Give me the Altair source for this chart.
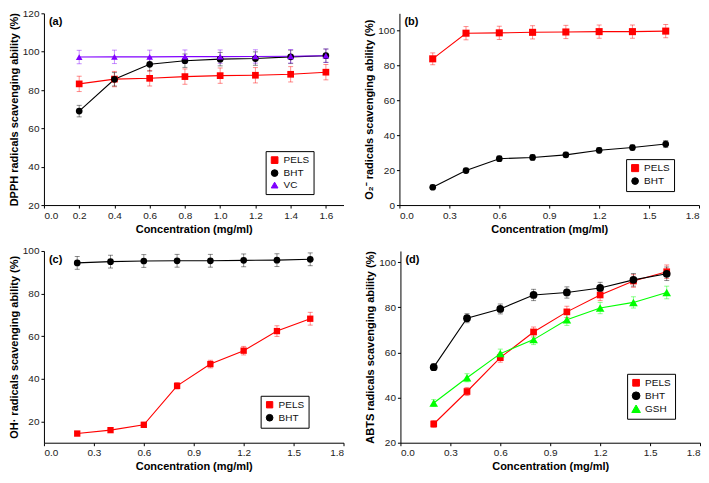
import altair as alt
import pandas as pd

conc = [0.2, 0.4, 0.6, 0.8, 1.0, 1.2, 1.4, 1.6]

# (a) DPPH
a_pels = [83.2, 85.7, 86.1, 87.0, 87.5, 87.7, 88.2, 89.3]
a_pels_err = [4.0, 4.0, 4.0, 4.0, 4.0, 4.0, 4.0, 4.0]
a_bht = [69.0, 85.6, 93.4, 95.3, 96.1, 96.4, 97.3, 97.9]
a_bht_err = [3.0, 3.5, 3.5, 3.5, 3.5, 3.5, 3.5, 3.5]
a_vc = [97.2, 97.3, 97.3, 97.4, 97.4, 97.5, 97.6, 97.9]
a_vc_err = [3.5, 3.5, 3.5, 3.5, 3.5, 3.5, 3.5, 3.5]

# (b) superoxide
b_pels = [83.9, 98.6, 98.8, 99.1, 99.3, 99.5, 99.5, 99.8]
b_pels_err = [3.4, 3.8, 3.8, 3.8, 3.8, 3.8, 3.8, 3.8]
b_bht = [10.2, 19.8, 26.6, 27.3, 28.8, 31.4, 33.0, 35.0]
b_bht_err = [1.2, 1.3, 1.5, 1.5, 1.5, 1.5, 1.5, 2.0]

# (c) hydroxyl
c_pels = [14.3, 15.9, 18.4, 36.7, 46.9, 53.2, 62.4, 68.2]
c_pels_err = [1.0, 1.0, 1.2, 1.5, 1.8, 2.0, 2.5, 3.0]
c_bht = [94.4, 95.0, 95.3, 95.4, 95.4, 95.6, 95.7, 96.1]
c_bht_err = [3.0, 3.0, 3.0, 3.0, 3.0, 3.0, 3.0, 3.0]

# (d) ABTS
d_pels = [28.3, 42.7, 57.7, 69.1, 78.0, 85.5, 91.7, 95.8]
d_pels_err = [1.5, 1.8, 2.0, 2.2, 2.5, 2.5, 2.8, 3.0]
d_bht = [53.5, 75.2, 79.3, 85.5, 86.6, 88.6, 92.2, 94.9]
d_bht_err = [1.5, 2.0, 2.2, 2.5, 2.5, 2.5, 2.8, 3.0]
d_gsh = [37.6, 48.8, 59.5, 65.7, 74.5, 79.7, 82.2, 86.6]
d_gsh_err = [1.5, 1.8, 2.0, 2.2, 2.5, 2.5, 2.5, 2.8]

FONT = "Liberation Sans"
W, H = 300, 192


def frame(series):
    rows = []
    for name, vals, errs in series:
        for x, y, e in zip(conc, vals, errs):
            rows.append({"x": x, "y": y, "lo": y - e, "hi": y + e, "series": name})
    return pd.DataFrame(rows)


def panel(series, colors, shapes, sizes, xdom, xticks, ydom, yticks, ytitle, label,
          leg_right, leg_bottom, w=W, h=H):
    df = frame(series)
    order = [s[0] for s in series]
    n = len(order)
    leg_w, leg_h = 50, 8 + 13 * n
    base = alt.Chart(df)
    xsc = alt.Scale(domain=xdom, nice=False, zero=False)
    ysc = alt.Scale(domain=ydom, nice=False, zero=False)
    xax = alt.Axis(values=xticks, format=".1f", title="Concentration (mg/ml)")
    yax = alt.Axis(values=yticks, format="d", title=ytitle)
    leg = alt.Legend(orient="none", legendX=w - leg_right - leg_w, legendY=h - leg_bottom - leg_h,
                     title=None, strokeColor="black", fillColor="white", padding=4,
                     labelFont=FONT, labelFontSize=10, rowPadding=1, labelOffset=4,
                     symbolOpacity=1, symbolStrokeWidth=1, labelColor="#111111")
    col = alt.Color("series:N", scale=alt.Scale(domain=order, range=colors), legend=leg)
    shp = alt.Shape("series:N", scale=alt.Scale(domain=order, range=shapes), legend=leg)
    sz = alt.Size("series:N", scale=alt.Scale(domain=order, range=sizes), legend=None)

    err = base.mark_errorbar(ticks=True, opacity=0.45, thickness=1).encode(
        x=alt.X("x:Q", scale=xsc, axis=xax),
        y=alt.Y("lo:Q", scale=ysc, axis=yax),
        y2="hi:Q",
        color=col,
    )
    line = base.mark_line(strokeWidth=1.1).encode(
        x=alt.X("x:Q", scale=xsc, axis=xax),
        y=alt.Y("y:Q", scale=ysc, axis=yax),
        color=col,
    )
    pts = base.mark_point(filled=True, opacity=1).encode(
        x=alt.X("x:Q", scale=xsc, axis=xax),
        y=alt.Y("y:Q", scale=ysc, axis=yax),
        color=col,
        shape=shp,
        size=sz,
    )
    txt = alt.Chart(pd.DataFrame({"t": [label]})).mark_text(
        font=FONT, fontWeight="bold", fontSize=11, align="left", baseline="top"
    ).encode(text="t:N", x=alt.value(5), y=alt.value(3))
    return alt.layer(err, line, pts, txt).properties(width=w, height=h)


pa = panel(
    [("PELS", a_pels, a_pels_err), ("BHT", a_bht, a_bht_err), ("VC", a_vc, a_vc_err)],
    ["#ff0000", "#000000", "#8000ff"], ["square", "circle", "triangle-up"], [45, 45, 45],
    [0, 1.7], [0, 0.2, 0.4, 0.6, 0.8, 1.0, 1.2, 1.4, 1.6], [20, 120], [20, 40, 60, 80, 100, 120],
    "DPPH radicals scavenging ability (%)", "(a)", 28, 7)
pb = panel(
    [("PELS", b_pels, b_pels_err), ("BHT", b_bht, b_bht_err)],
    ["#ff0000", "#000000"], ["square", "circle"], [50, 45],
    [0, 1.8], [0, 0.3, 0.6, 0.9, 1.2, 1.5, 1.8], [0, 110], [0, 20, 40, 60, 80, 100],
    "O₂⁻ radicals scavenging ability (%)", "(b)", 23, 12)
pc = panel(
    [("PELS", c_pels, c_pels_err), ("BHT", c_bht, c_bht_err)],
    ["#ff0000", "#000000"], ["square", "circle"], [40, 45],
    [0, 1.8], [0, 0.3, 0.6, 0.9, 1.2, 1.5, 1.8], [10, 100], [20, 40, 60, 80, 100],
    "OH· radicals scavenging ability (%)", "(c)", 33, 13)
pd_ = panel(
    [("PELS", d_pels, d_pels_err), ("BHT", d_bht, d_bht_err), ("GSH", d_gsh, d_gsh_err)],
    ["#ff0000", "#000000", "#00ff00"], ["square", "circle", "triangle-up"], [45, 75, 45],
    [0, 1.8], [0, 0.3, 0.6, 0.9, 1.2, 1.5, 1.8], [20, 105], [20, 40, 60, 80, 100],
    "ABTS radicals scavenging ability (%)", "(d)", 23, 22)

row1 = alt.hconcat(pa, pb, spacing=20).resolve_scale(color="independent", shape="independent", size="independent")
row2 = alt.hconcat(pc, pd_, spacing=20).resolve_scale(color="independent", shape="independent", size="independent")

chart = alt.vconcat(row1, row2, spacing=12).resolve_scale(
    color="independent", shape="independent", size="independent"
).properties(padding=0, background="white").configure_view(stroke=None).configure_axis(
    grid=False, domainColor="black", tickColor="black", labelColor="#222222",
    labelFont=FONT, labelFontSize=10, titleFont=FONT, titleFontSize=11,
    titleFontWeight="bold", titleColor="black", tickSize=3, labelPadding=2, titlePadding=3,
)

chart.save("out.html", embed_options={"renderer": "svg", "actions": False})
